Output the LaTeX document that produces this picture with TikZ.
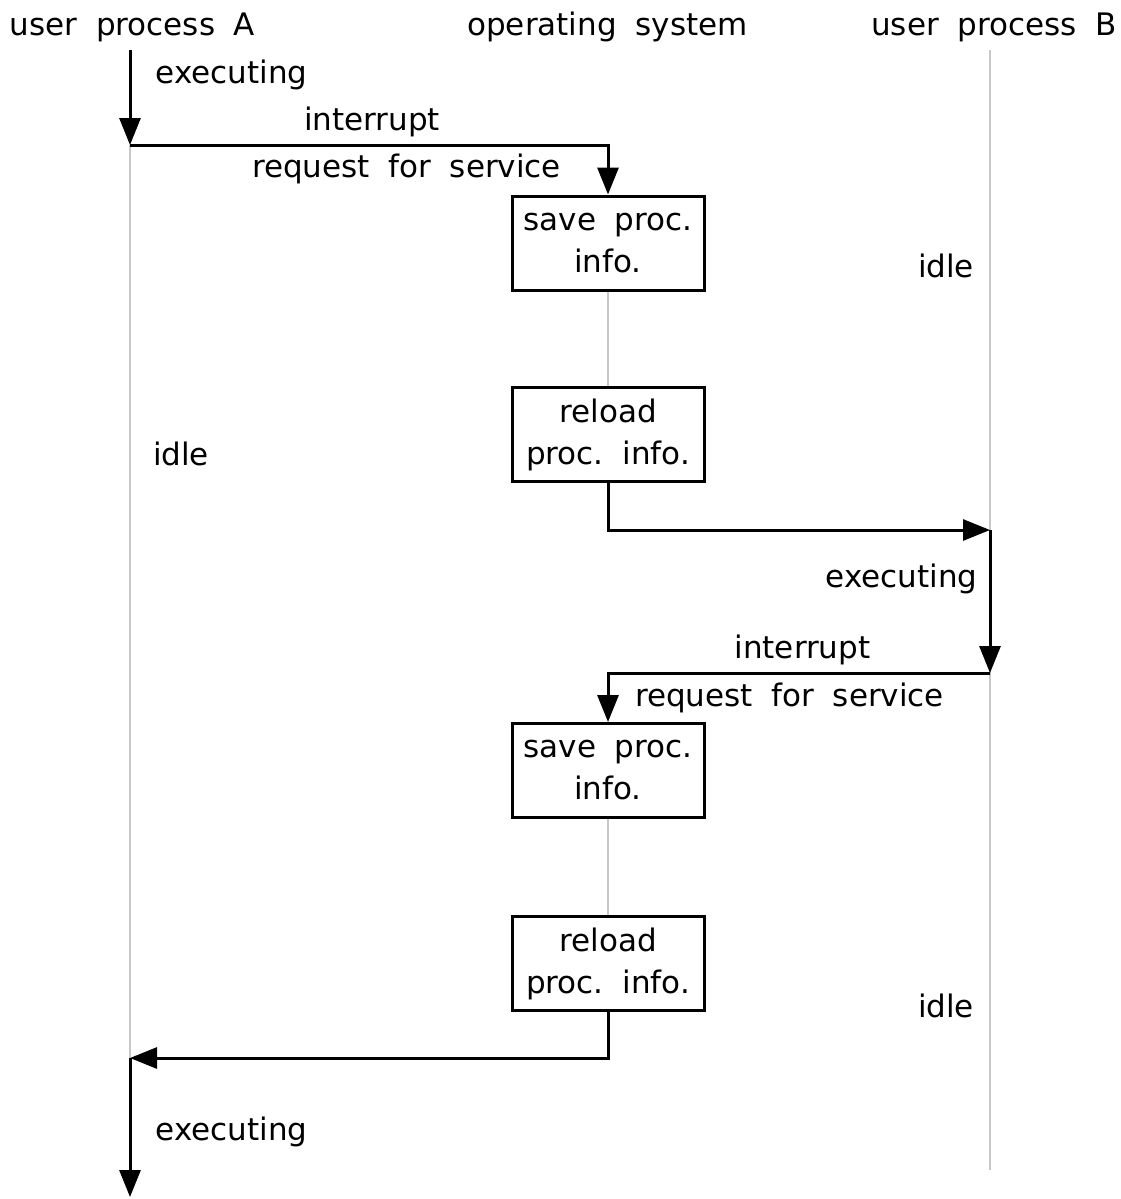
\documentclass[tikz,border=0pt]{standalone}
\usepackage{fontspec}
\setmainfont[WordSpace=1.9]{DejaVu Sans}
\frenchspacing
\usetikzlibrary{arrows.meta}
\definecolor{lanegrey}{RGB}{200,200,200}
\tikzset{
  lbl/.style={font=\fontsize{31}{42}\selectfont, inner sep=0pt, anchor=base},
  procbox/.style={draw=black, line width=3pt, minimum width=192pt, minimum height=94pt,
    inner sep=0pt, align=center, font=\fontsize{31}{42}\selectfont},
  lane/.style={draw=lanegrey, line width=2.2pt},
  flow/.style={draw=black, line width=3pt},
  tip/.style={-{Triangle[length=27pt,width=21pt]}}
}
\begin{document}
\begin{tikzpicture}[x=1pt,y=-1pt]
\useasboundingbox (0,0) rectangle (1120,1199);
% lane coordinates
\coordinate (Atop) at (130,50);
\coordinate (A1) at (130,145);
\coordinate (A2) at (130,1058);
\coordinate (Abot) at (130,1197);
\coordinate (Btop) at (990,50);
\coordinate (B1) at (990,530);
\coordinate (B2) at (990,673);
\coordinate (Bbot) at (990,1170);
% boxes
\node[procbox] (s1) at (608,243) {save proc.\\info.};
\node[procbox] (r1) at (608,434.5) {reload\\proc. info.};
\node[procbox] (s2) at (608,770.5) {save proc.\\info.};
\node[procbox] (r2) at (608,963.5) {reload\\proc. info.};
% grey lanes
\draw[lane] (A1) -- (A2);
\draw[lane] (Btop) -- (Bbot);
\draw[lane] (s1.south) -- (r1.north);
\draw[lane] (s2.south) -- (r2.north);
% flows
\draw[flow,tip] (Atop) -- (A1);
\draw[flow,tip] (A1) -| (s1.north);
\draw[flow,tip] (r1.south) |- (B1);
\draw[flow,tip] (B1) -- (B2);
\draw[flow,tip] (B2) -| (s2.north);
\draw[flow,tip] (r2.south) |- (A2);
\draw[flow,tip] (A2) -- (Abot);
% labels
\node[lbl] (hA) at (132.5,36) {user process A};
\node[lbl] (hOS) at (607.5,36) {operating system};
\node[lbl] (hB) at (994,36) {user process B};
\node[lbl] (ex1) at (231.5,83) {executing};
\node[lbl] (int1) at (372,130) {interrupt};
\node[lbl] (req1) at (406.5,177) {request for service};
\node[lbl] (idleB1) at (946,277) {idle};
\node[lbl] (idleA) at (181,465) {idle};
\node[lbl] (ex2) at (901.5,587) {executing};
\node[lbl] (int2) at (802.5,658) {interrupt};
\node[lbl] (req2) at (789.5,706) {request for service};
\node[lbl] (idleB2) at (946,1017) {idle};
\node[lbl] (ex3) at (231.5,1140) {executing};
\end{tikzpicture}
\end{document}
